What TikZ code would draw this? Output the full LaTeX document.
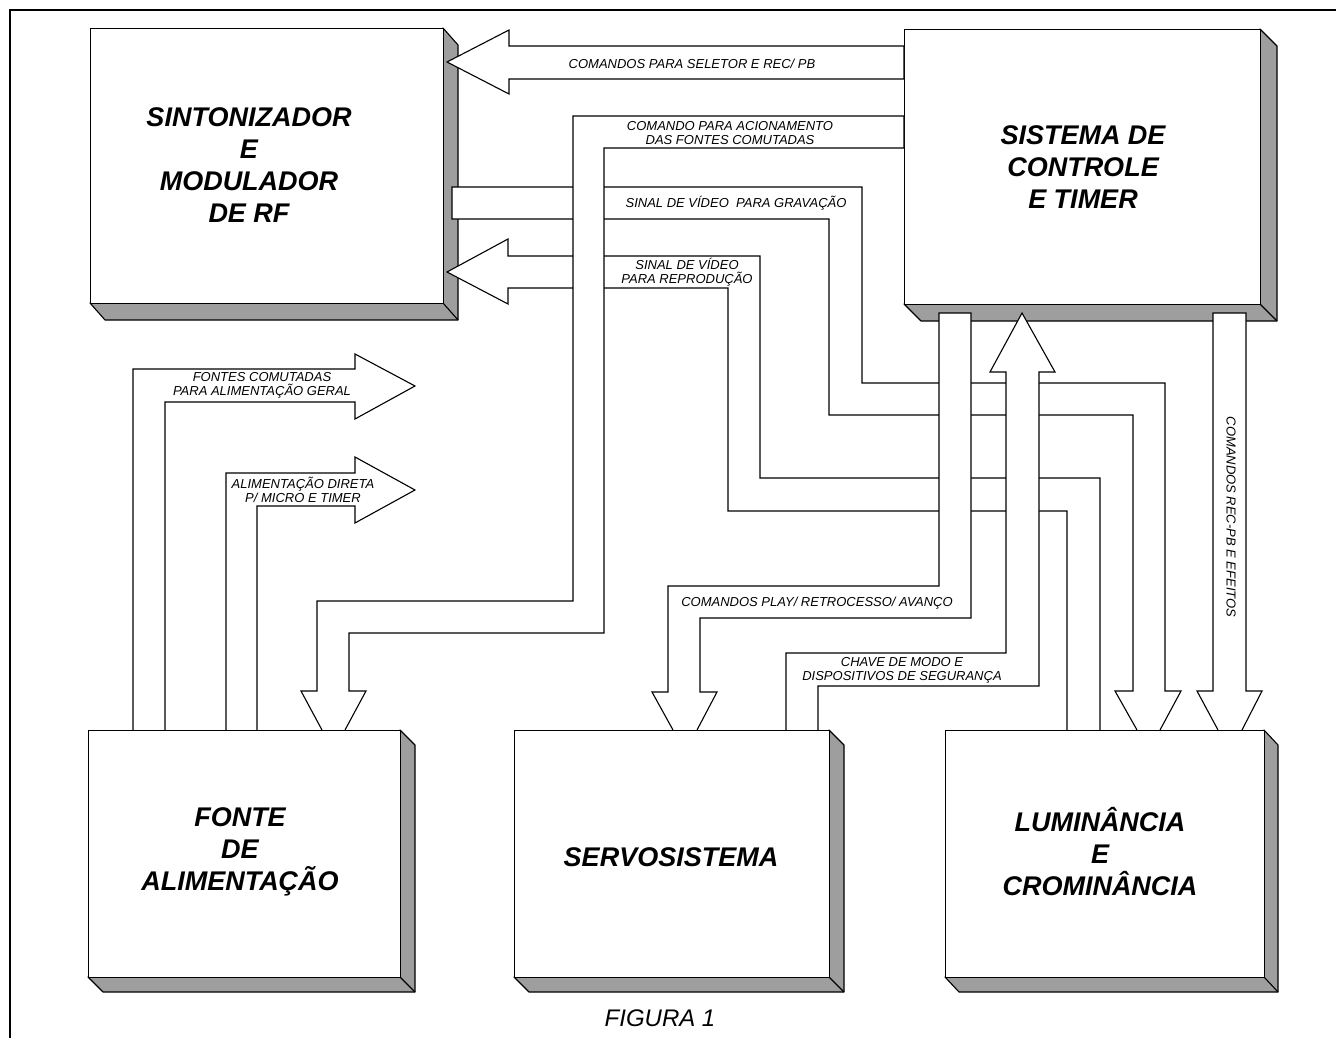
\documentclass[tikz,border=0pt]{standalone}
\usepackage{fontspec}
\setmainfont{Liberation Sans}
\tikzset{
  x=1pt, y=-1pt,
  blk/.style={draw, line width=1.2pt, fill=white, rectangle, inner sep=0pt},
  big/.style={font=\fontsize{27}{32}\selectfont\bfseries\itshape, align=center, inner sep=0pt},
  small/.style={font=\fontsize{13}{14}\selectfont\itshape, align=center, inner sep=0pt},
  band/.style={line width=1.1pt, fill=white, line join=miter},
  shadeface/.style={fill=black!38, draw, line width=1.1pt, line join=round}
}
% #1 name, #2 x, #3 y (top-left), #4 width, #5 height, #6 dx, #7 dy
\newcommand\blkbox[7]{%
  \draw[shadeface] (#2+#4,#3) -- (#2+#4+#6,#3+#7) -- (#2+#4+#6,#3+#5+#7) -- (#2+#6,#3+#5+#7) -- (#2,#3+#5) -- (#2+#4,#3+#5) -- cycle;
  \draw[line width=1.1pt] (#2+#4,#3+#5) -- (#2+#4+#6,#3+#5+#7);
  \node[blk, anchor=north west, minimum width=#4pt, minimum height=#5pt] (#1) at (#2,#3) {};
}
\begin{document}
\begin{tikzpicture}
\useasboundingbox (0,0) rectangle (1336,1038);
\fill[white] (0,0) rectangle (1336,1038);
% frame
\draw[line width=1.6pt] (1336,10) -- (10,10) -- (10,1038);

% upper boxes
\blkbox{sint}{90}{28}{353}{275}{15}{17}
\blkbox{sist}{904}{29}{356}{275}{17}{17}

% band: video for recording (behind)
\draw[band] (1160,730) -- (1181,691) -- (1165,691) -- (1165,383) -- (862,383) -- (862,187) -- (452,187) -- (452,219) -- (829,219) -- (829,415) -- (1133,415) -- (1133,691) -- (1115,691) -- (1137,730);
% band: video for playback
\draw[band] (1100,730) -- (1100,478) -- (760,478) -- (760,256) -- (508,256) -- (508,239) -- (447,272) -- (508,304) -- (508,288) -- (728,288) -- (728,511) -- (1067,511) -- (1067,730);
% band: commands for selector
\draw[band] (904,46) -- (509,46) -- (509,30) -- (447,62) -- (509,94) -- (509,79) -- (904,79) -- cycle;
% band: command for switched supplies
\draw[band] (322,730) -- (301,691) -- (317,691) -- (317,601) -- (573,601) -- (573,116) -- (904,116) -- (904,148) -- (604,148) -- (604,633) -- (349,633) -- (349,691) -- (366,691) -- (345,730);
% band: play commands
\draw[band] (673,730) -- (652,692) -- (668,692) -- (668,586) -- (939,586) -- (939,313) -- (971,313) -- (971,618) -- (700,618) -- (700,692) -- (717,692) -- (697,730);
% band: mode switch (up)
\draw[band] (786,730) -- (786,653) -- (1006,653) -- (1006,372) -- (990,372) -- (1022,313) -- (1055,372) -- (1039,372) -- (1039,686) -- (818,686) -- (818,730);
% band: REC-PB commands
\draw[band] (1218,730) -- (1197,691) -- (1213,691) -- (1213,313) -- (1246,313) -- (1246,691) -- (1262,691) -- (1242,730);
% bands from power supply
\draw[band] (133,730) -- (133,369) -- (355,369) -- (355,354) -- (415,386) -- (355,419) -- (355,402) -- (165,402) -- (165,730);
\draw[band] (226,730) -- (226,473) -- (355,473) -- (355,457) -- (415,490) -- (355,523) -- (355,506) -- (257,506) -- (257,730);

% lower boxes
\blkbox{fonte}{88}{730}{312}{247}{15}{15}
\blkbox{servo}{514}{730}{315}{247}{15}{15}
\blkbox{lum}{945}{730}{319}{247}{14}{15}

% box labels
\node[big] (tsint) at (249,165) {SINTONIZADOR\\E\\MODULADOR\\DE RF};
\node[big] (tsist) at (1083,167) {SISTEMA DE\\CONTROLE\\E TIMER};
\node[big] (tfonte) at (240,852) {FONTE\\DE\\ALIMENTAÇÃO};
\node[big] (tservo) at (671,857) {SERVOSISTEMA};
\node[big] (tlum) at (1100,852) {LUMINÂNCIA\\E\\CROMINÂNCIA};

% connector labels
\node[small] (l1) at (692,64) {COMANDOS PARA SELETOR E REC/ PB};
\node[small] (l2) at (730,133) {COMANDO PARA ACIONAMENTO\\DAS FONTES COMUTADAS};
\node[small] (l3) at (736,203) {SINAL DE VÍDEO\ \ PARA GRAVAÇÃO};
\node[small] (l4) at (687,272) {SINAL DE VÍDEO\\PARA REPRODUÇÃO};
\node[small] (l5) at (262,385.5) {FONTES COMUTADAS\\PARA ALIMENTAÇÃO GERAL};
\node[small] (l6) at (303,490) {ALIMENTAÇÃO DIRETA\\P/ MICRO E TIMER};
\node[small] (l7) at (817,603) {COMANDOS PLAY/ RETROCESSO/ AVANÇO};
\node[small] (l8) at (902,670) {CHAVE DE MODO E\\DISPOSITIVOS DE SEGURANÇA};
\node[small, rotate=-90] (l9) at (1231,517) {COMANDOS REC-PB E EFEITOS};

\node[font=\fontsize{24}{28}\selectfont\itshape, inner sep=0pt] (fig) at (660,1018) {FIGURA 1};
\end{tikzpicture}
\end{document}
